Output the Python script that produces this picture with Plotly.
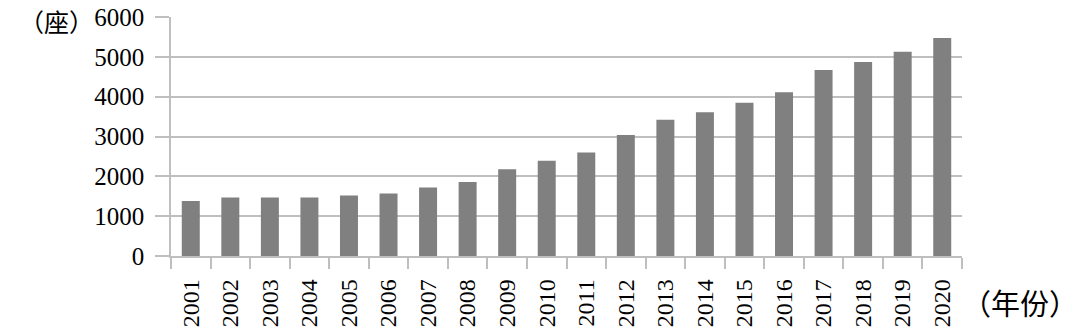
import plotly.graph_objects as go

years = [str(y) for y in range(2001, 2021)]
counts = [1380, 1470, 1470, 1470, 1520, 1570, 1720, 1860, 2180, 2390,
          2600, 3040, 3420, 3610, 3850, 4110, 4670, 4870, 5130, 5470]
y_ticks = [0, 1000, 2000, 3000, 4000, 5000, 6000]
y_unit = "（座）"
x_unit = "（年份）"

GRID = "#bfbfbf"
SERIF = "Liberation Serif"
CJK = "Noto Sans CJK SC"

fig = go.Figure(go.Bar(x=years, y=counts, marker=dict(color="#808080", line=dict(width=0))))

W, H = 1080, 336
L, R, T, B = 171, 118, 17, 80
PH = H - T - B
fig.update_layout(
    width=W, height=H,
    margin=dict(l=L, r=R, t=T, b=B, autoexpand=False),
    paper_bgcolor="white", plot_bgcolor="white",
    bargap=0.545,
    showlegend=False,
    font=dict(family=SERIF, size=24, color="black"),
)
fig.update_xaxes(
    type="category", tickangle=-90, tickson="boundaries",
    ticks="outside", ticklen=11, tickcolor=GRID, tickwidth=1.5,
    showline=True, linecolor=GRID, linewidth=1.5,
    showgrid=False, ticklabelstandoff=12, automargin=False,
    tickfont=dict(family=SERIF, size=24, color="black"),
)
fig.update_yaxes(
    range=[0, 6000], tickvals=y_ticks, ticktext=[str(v) for v in y_ticks],
    ticks="outside", ticklen=14, tickcolor=GRID, tickwidth=1.5,
    showline=True, linecolor=GRID, linewidth=1.5,
    showgrid=True, gridcolor=GRID, gridwidth=1.5, zeroline=False,
    ticklabelstandoff=6, automargin=False,
    tickfont=dict(family=SERIF, size=25, color="black"),
)
fig.add_annotation(text=y_unit, xref="paper", yref="paper", x=(96 - L) / (W - L - R),
                   y=1 + (T - 1) / PH,
                   xanchor="right", yanchor="top", showarrow=False,
                   font=dict(family=CJK, size=25, color="black"))
fig.add_annotation(text=x_unit, xref="paper", yref="paper", x=(1020 - L) / (W - L - R),
                   y=(256 - 302) / PH, xanchor="center", yanchor="middle", showarrow=False,
                   font=dict(family=CJK, size=29, color="black"))
fig.write_html("out.html")
